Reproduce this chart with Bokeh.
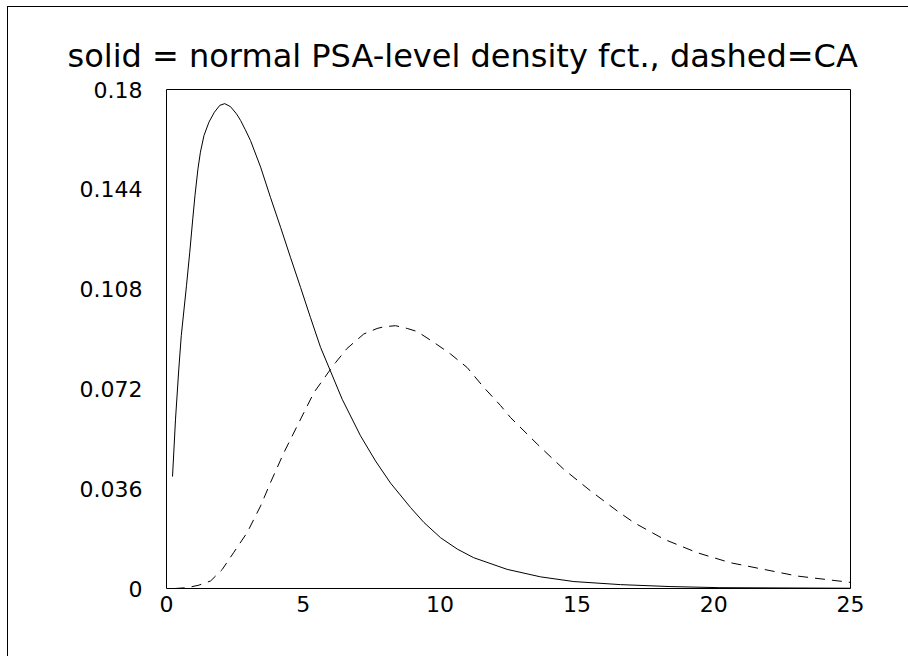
from bokeh.plotting import figure
from bokeh.models import FixedTicker, Range1d
from bokeh.embed import file_html
from bokeh.resources import INLINE

# ---- data ----
normal_x = [0.22, 0.33, 0.45, 0.54, 0.73, 0.85, 0.96, 1.04, 1.15, 1.24, 1.37, 1.55, 1.75,
            1.95, 2.13, 2.34, 2.56, 2.71, 2.88, 3.07, 3.44, 3.80, 4.17, 4.53, 4.90, 5.26,
            5.63, 5.99, 6.42, 7.09, 7.64, 8.19, 8.92, 9.41, 10.02, 10.63, 11.23, 12.45,
            13.67, 14.89, 16.59, 18.4, 20.2, 22.5, 25.0]
normal_y = [0.0404, 0.0611, 0.0792, 0.0912, 0.1092, 0.1213, 0.1333, 0.1417, 0.1514, 0.1574,
            0.1634, 0.1682, 0.1718, 0.1743, 0.1749, 0.1738, 0.1712, 0.1688, 0.1655, 0.1616,
            0.1520, 0.1411, 0.1303, 0.1195, 0.1086, 0.0978, 0.0870, 0.0785, 0.0683, 0.0551,
            0.0460, 0.0380, 0.0292, 0.0238, 0.0183, 0.0142, 0.0111, 0.0069, 0.0042, 0.0025,
            0.0014, 0.0007, 0.0003, 0.0002, 0.0001]

ca_x = [0.3, 0.76, 1.18, 1.61, 2.04, 2.45, 2.95, 3.44, 3.80, 4.29, 4.78, 5.39, 5.99, 6.18,
        6.60, 7.21, 7.70, 7.94, 8.37, 8.80, 9.16, 9.77, 10.38, 10.99, 11.60, 12.21, 12.57,
        13.55, 14.52, 15.50, 16.47, 17.08, 18.18, 19.40, 20.61, 21.83, 23.05, 25.0]
ca_y = [0.0, 0.0003, 0.0012, 0.0027, 0.0069, 0.0129, 0.0202, 0.0298, 0.0382, 0.0490, 0.0587,
        0.0707, 0.0790, 0.0815, 0.0866, 0.0918, 0.0938, 0.0944, 0.0948, 0.0938, 0.0927,
        0.0888, 0.0846, 0.0797, 0.0725, 0.0660, 0.0617, 0.0521, 0.0430, 0.0352, 0.0280,
        0.0238, 0.0178, 0.0129, 0.0093, 0.0069, 0.0045, 0.0022]

x_ticks = [0, 5, 10, 15, 20, 25]
x_tick_labels = ["0", "5", "10", "15", "20", "25"]
y_ticks = [0, 0.036, 0.072, 0.108, 0.144, 0.18]
y_tick_labels = ["0", "0.036", "0.072", "0.108", "0.144", "0.18"]

title_text = "solid = normal PSA-level density fct., dashed=CA"

FONT = "DejaVu Sans"

p = figure(width=901, height=650, output_backend="svg", toolbar_location=None,
           x_range=Range1d(0, 25), y_range=Range1d(0, 0.18),
           min_border_left=158, min_border_right=59, min_border_top=82, min_border_bottom=69)

p.styles = {"border-left": "1px solid black", "border-top": "1px solid black",
            "margin-left": "7px", "margin-top": "6px"}

p.title.text = title_text
p.title.text_font = FONT
p.title.text_font_size = "32px"
p.title.text_font_style = "normal"
p.title.text_color = "black"
p.title.align = "left"
p.title.offset = -99
p.title.standoff = 30

p.grid.visible = False
p.outline_line_color = "black"
p.outline_line_width = 1
p.background_fill_color = "white"
p.border_fill_color = "white"

p.xaxis.ticker = FixedTicker(ticks=x_ticks)
p.yaxis.ticker = FixedTicker(ticks=y_ticks)
p.xaxis.major_label_overrides = {t: l for t, l in zip(x_ticks, x_tick_labels)}
p.yaxis.major_label_overrides = {t: l for t, l in zip(y_ticks, y_tick_labels)}
for ax in (p.xaxis, p.yaxis):
    ax.axis_line_color = None
    ax.major_tick_line_color = None
    ax.minor_tick_line_color = None
    ax.major_label_text_font = FONT
    ax.major_label_text_font_size = "22px"
    ax.major_label_text_color = "black"
p.xaxis.major_label_standoff = 1
p.yaxis.major_label_standoff = 18

p.line(normal_x, normal_y, line_color="black", line_width=1)
p.line(ca_x, ca_y, line_color="black", line_width=1, line_dash="10 7")

open("out.html", "w").write(file_html(p, INLINE))
